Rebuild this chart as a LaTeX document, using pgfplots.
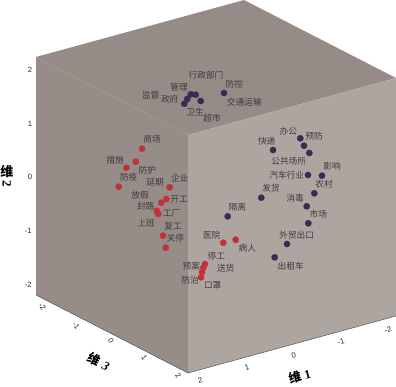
\documentclass[border=0pt]{standalone}
\usepackage{pgfplots}
\pgfplotsset{compat=1.18}
\usepackage{fontspec}
\setmainfont{Liberation Sans}
\newfontfamily\cjk{Noto Sans CJK SC}
\newfontfamily\lser{Liberation Serif}
\definecolor{wallL}{HTML}{968D89}
\definecolor{wallT}{HTML}{958C88}
\definecolor{wallR}{HTML}{ADA5A0}
\definecolor{edgec}{HTML}{5A5452}
\definecolor{redp}{HTML}{C2303C}
\definecolor{darkp}{HTML}{3B2A52}
\definecolor{lab}{HTML}{3F3A3A}
\newcommand{\lb}[2]{\node[font=\cjk\fontsize{8.7}{9}\selectfont,text=lab,inner sep=0pt] at (axis cs:#1) {#2};}
\newcommand{\tk}[3]{\node[font=\fontsize{7.6}{8}\selectfont,text=black!85,inner sep=0pt,rotate=#3] at (axis cs:#1) {#2};}
\begin{document}
\begin{tikzpicture}
\useasboundingbox (0,0) rectangle (396pt,386pt);
\begin{axis}[at={(0,0)},anchor=south west,scale only axis,width=396pt,height=386pt,
  xmin=0,xmax=396,ymin=0,ymax=386,y dir=reverse,axis lines=none,clip=false]
\addplot[fill=wallT,draw=none,mark=none] coordinates {(36,57)(244,0)(396,78)(188,135)} --cycle;
\addplot[fill=wallL,draw=none,mark=none] coordinates {(36,57)(188,135)(188,373)(36,295)} --cycle;
\addplot[fill=wallR,draw=none,mark=none] coordinates {(188,135)(396,78)(396,316)(188,373)} --cycle;
\addplot[draw=edgec,line width=0.5pt,mark=none] coordinates {(36,295)(188,373)(396,316)};
\addplot[only marks,color=redp,mark=*,mark size=3.2pt,mark options={draw=redp,fill=redp,line width=0.2pt}] coordinates {
(142,148.7)(135.7,161.7)(126.3,167.7)(118.7,186.7)(169.7,187.3)(166.3,199)(161.3,202.7)
(157.3,212.3)(158.3,214)(156.8,210.8)(163,235.7)(165.7,247.7)(223.3,242.7)(235.7,239.7)
(205,264)(203.3,267.7)(202,272.3)(201,277.3)};
\addplot[only marks,color=darkp,mark=*,mark size=3.2pt,mark options={draw=darkp,fill=darkp,line width=0.2pt}] coordinates {
(184.3,103.7)(187.3,99)(190.7,94.3)(195.7,94.7)(200.7,101)(224,93)
(300.3,138.3)(304,145.7)(309.3,153)(273,150)(308,175)(322,175.7)(314.3,193.3)
(261.3,197.7)(227.7,216.3)(306.7,206.3)(308.3,223.3)(287,244)(274.7,257.3)};
\lb{152,139}{商场}\lb{115,160}{措施}\lb{147.3,170}{防护}\lb{128.7,177.3}{防疫}
\lb{155,182.3}{延期}\lb{179.7,178}{企业}\lb{140,194.7}{放假}\lb{179,199.3}{开工}
\lb{145.7,206}{封路}\lb{171.7,213.3}{工厂}\lb{146,222.7}{上班}\lb{173,226.3}{复工}
\lb{175.3,238}{关停}\lb{191.3,265.7}{预案}\lb{190,280.3}{防治}\lb{211.7,235.3}{医院}
\lb{247.3,248.3}{病人}\lb{216.3,256.3}{停工}\lb{225.7,267.7}{送货}\lb{212.7,285.7}{口罩}
\lb{237.3,206.7}{隔离}\lb{271,188.3}{发货}\lb{295,198.3}{消毒}\lb{324,184}{农村}
\lb{332,166}{影响}\lb{286.7,175}{汽车行业}\lb{288.7,161.3}{公共场所}\lb{266.7,141}{快递}
\lb{288.3,131}{办公}\lb{314,136.3}{预防}\lb{318.3,214}{市场}\lb{296.7,234.7}{外贸出口}
\lb{290.7,266}{出租车}\lb{234.3,84}{防控}\lb{244.3,101.7}{交通运输}\lb{212,118}{超市}
\lb{206,75}{行政部门}\lb{179,86.7}{管理}\lb{150.7,95}{监督}\lb{169.7,99.3}{政府}\lb{195,111.7}{卫生}
\tk{30,70}{2}{0}\tk{30,124}{1}{0}\tk{30,177.3}{0}{0}\tk{28.3,231}{-1}{0}\tk{28.3,285}{-2}{0}
\tk{42.3,307}{-2}{-55}\tk{76.3,325.3}{-1}{-55}\tk{111,340.3}{0}{-55}\tk{144.3,358}{1}{-55}\tk{178.3,376}{2}{-55}
\tk{200.3,380.3}{2}{15}\tk{247,367.7}{1}{15}\tk{293.7,355.3}{0}{15}\tk{341,342}{-1}{15}\tk{388,329.7}{-2}{15}
\node[inner sep=0pt,rotate=-28,font=\fontsize{12.5}{14}\selectfont] at (axis cs:99,361.7) {{\cjk\bfseries 维} {\lser\bfseries\itshape 3}};
\node[inner sep=0pt,rotate=15,font=\fontsize{12.5}{14}\selectfont] at (axis cs:299.7,376.5) {{\cjk\bfseries 维} {\lser\bfseries 1}};
\node[inner sep=0pt,font=\cjk\bfseries\fontsize{13}{14}\selectfont] at (axis cs:7,172) {维};
\node[inner sep=0pt,rotate=-90,font=\lser\bfseries\fontsize{13}{14}\selectfont] at (axis cs:7,184) {2};
\end{axis}
\end{tikzpicture}
\end{document}
